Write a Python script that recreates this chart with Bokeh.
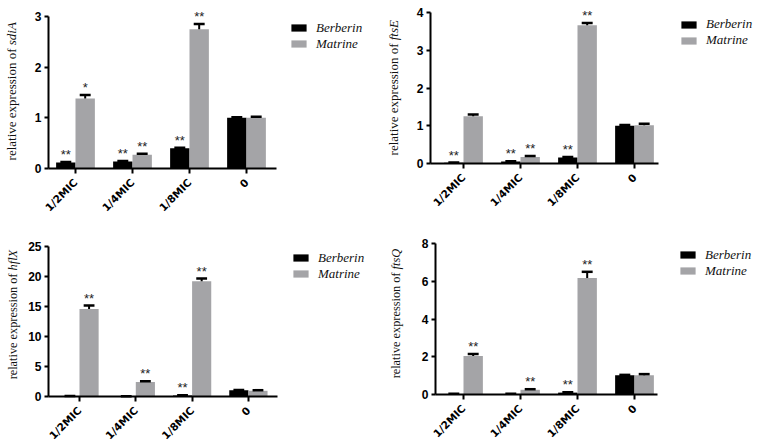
import math
from bokeh.plotting import figure
from bokeh.layouts import column, row
from bokeh.models import ColumnDataSource, FixedTicker, Label, Legend, LegendItem, Range1d
from bokeh.core.properties import value
from bokeh.embed import file_html
from bokeh.resources import INLINE

categories = ["1/2MIC", "1/4MIC", "1/8MIC", "0"]
series_names = ["Berberin", "Matrine"]

# sdiA
sdiA_berberin = [0.12, 0.14, 0.40, 1.00]
sdiA_berberin_err = [0.01, 0.01, 0.01, 0.01]
sdiA_matrine = [1.38, 0.27, 2.75, 1.00]
sdiA_matrine_err = [0.07, 0.02, 0.10, 0.02]
sdiA_berberin_sig = ["**", "**", "**", ""]
sdiA_matrine_sig = ["*", "**", "**", ""]
sdiA_ticks = [0, 1, 2, 3]

# ftsE
ftsE_berberin = [0.02, 0.05, 0.16, 1.00]
ftsE_berberin_err = [0.005, 0.01, 0.01, 0.02]
ftsE_matrine = [1.25, 0.17, 3.66, 1.01]
ftsE_matrine_err = [0.05, 0.03, 0.06, 0.04]
ftsE_berberin_sig = ["**", "**", "**", ""]
ftsE_matrine_sig = ["", "**", "**", ""]
ftsE_ticks = [0, 1, 2, 3, 4]

# hflX
hflX_berberin = [0.05, 0.02, 0.18, 1.05]
hflX_berberin_err = [0.02, 0.01, 0.03, 0.05]
hflX_matrine = [14.6, 2.4, 19.2, 0.95]
hflX_matrine_err = [0.55, 0.15, 0.45, 0.10]
hflX_berberin_sig = ["", "", "**", ""]
hflX_matrine_sig = ["**", "**", "**", ""]
hflX_ticks = [0, 5, 10, 15, 20, 25]

# ftsQ
ftsQ_berberin = [0.03, 0.03, 0.10, 1.02]
ftsQ_berberin_err = [0.01, 0.01, 0.02, 0.02]
ftsQ_matrine = [2.04, 0.25, 6.17, 1.02]
ftsQ_matrine_err = [0.10, 0.03, 0.33, 0.06]
ftsQ_berberin_sig = ["", "", "**", ""]
ftsQ_matrine_sig = ["**", "**", "**", ""]
ftsQ_ticks = [0, 2, 4, 6, 8]

BLACK = "#000000"
GRAY = "#a4a4a7"

# layout numbers are pixels inside each figure (origin top-left of the figure)
panels = [
    dict(gene="sdiA", b=sdiA_berberin, be=sdiA_berberin_err, m=sdiA_matrine, me=sdiA_matrine_err,
         bs=sdiA_berberin_sig, ms=sdiA_matrine_sig, ticks=sdiA_ticks,
         w=380, h=221, tick0=75, ppu=57.0, ax_l=48, ax_r=276, y0=168, ytop_px=16,
         leg=(289, 169.5), lab_x=11, lab_j=173, lab_fs=13),
    dict(gene="ftsE", b=ftsE_berberin, be=ftsE_berberin_err, m=ftsE_matrine, me=ftsE_matrine_err,
         bs=ftsE_berberin_sig, ms=ftsE_matrine_sig, ticks=ftsE_ticks,
         w=378, h=221, tick0=83, ppu=57.0, ax_l=50, ax_r=278, y0=163, ytop_px=12,
         leg=(299, 173), lab_x=13, lab_j=178, lab_fs=13),
    dict(gene="hflX", b=hflX_berberin, be=hflX_berberin_err, m=hflX_matrine, me=hflX_matrine_err,
         bs=hflX_berberin_sig, ms=hflX_matrine_sig, ticks=hflX_ticks,
         w=380, h=221, tick0=79, ppu=56.3, ax_l=48, ax_r=277, y0=175, ytop_px=25,
         leg=(291, 160.5), lab_x=12.5, lab_j=169, lab_fs=12.3),
    dict(gene="ftsQ", b=ftsQ_berberin, be=ftsQ_berberin_err, m=ftsQ_matrine, me=ftsQ_matrine_err,
         bs=ftsQ_berberin_sig, ms=ftsQ_matrine_sig, ticks=ftsQ_ticks,
         w=378, h=221, tick0=83, ppu=57.0, ax_l=55, ax_r=277, y0=173, ytop_px=22,
         leg=(298, 163.5), lab_x=15, lab_j=170, lab_fs=12.3),
]

BAR_W = 0.34
CAP = 0.096


def make_panel(cfg):
    ymax = cfg["ticks"][-1]
    ppu = cfg["ppu"]
    ppy = (cfg["y0"] - cfg["ytop_px"]) / ymax
    x_start = -cfg["tick0"] / ppu
    x_end = (cfg["w"] - cfg["tick0"]) / ppu
    y_start = -(cfg["h"] - cfg["y0"]) / ppy
    y_end = cfg["y0"] / ppy
    ax_l = (cfg["ax_l"] - cfg["tick0"]) / ppu
    ax_r = (cfg["ax_r"] - cfg["tick0"]) / ppu

    p = figure(width=cfg["w"], height=cfg["h"], output_backend="svg", toolbar_location=None,
               x_range=Range1d(x_start, x_end), y_range=Range1d(y_start, y_end),
               min_border=0, title_location=None)
    p.outline_line_color = None
    p.grid.visible = False
    p.background_fill_color = "white"
    p.border_fill_color = "white"

    idx = list(range(len(categories)))
    xb = [i - BAR_W / 2 for i in idx]
    xm = [i + BAR_W / 2 for i in idx]
    src_b = ColumnDataSource(dict(x=xb, top=cfg["b"], err=[v + e for v, e in zip(cfg["b"], cfg["be"])],
                                  x0=[x - CAP for x in xb], x1=[x + CAP for x in xb], sig=cfg["bs"]))
    src_m = ColumnDataSource(dict(x=xm, top=cfg["m"], err=[v + e for v, e in zip(cfg["m"], cfg["me"])],
                                  x0=[x - CAP for x in xm], x1=[x + CAP for x in xm], sig=cfg["ms"]))

    rb = p.vbar(x="x", top="top", bottom=0, width=BAR_W, source=src_b, fill_color=BLACK, line_color=None)
    rm = p.vbar(x="x", top="top", bottom=0, width=BAR_W, source=src_m, fill_color=GRAY, line_color=None)
    for src in (src_b, src_m):
        p.segment(x0="x", y0="top", x1="x", y1="err", source=src, line_color="black", line_width=2)
        p.segment(x0="x0", y0="err", x1="x1", y1="err", source=src, line_color="black", line_width=2.5)
        p.text(x="x", y="err", text="sig", source=src, text_align="center", text_baseline="bottom",
               text_font=value("Liberation Sans"), text_font_size="13px", text_color="#222222")

    # axes, placed inside the frame at fixed data positions
    for ax in (p.xaxis[0], p.yaxis[0]):
        ax.axis_line_color = "black"
        ax.axis_line_width = 2
        ax.major_tick_line_color = "black"
        ax.major_tick_line_width = 2
        ax.minor_tick_line_color = None
        ax.major_tick_in = 0
        ax.major_label_text_color = "black"
        ax.major_label_text_font_style = "bold"
    xa = p.xaxis[0]
    xa.fixed_location = 0
    xa.ticker = FixedTicker(ticks=idx)
    xa.major_label_overrides = {i: c for i, c in zip(idx, categories)}
    xa.major_label_orientation = math.pi / 4
    xa.major_label_text_font = "DejaVu Sans"
    xa.major_label_text_font_size = "10.5px"
    xa.major_label_standoff = 7
    xa.major_tick_out = 5
    xa.bounds = (ax_l, ax_r)
    ya = p.yaxis[0]
    ya.fixed_location = ax_l
    ya.ticker = FixedTicker(ticks=cfg["ticks"])
    ya.major_label_text_font = "Liberation Sans"
    ya.major_label_text_font_size = "12px"
    ya.major_label_standoff = 3
    ya.major_tick_out = 4
    ya.bounds = (0, ymax)

    # y axis title: plain text + italic gene name, joined at one point
    fs = cfg["lab_fs"]
    p.add_layout(Label(x=cfg["lab_x"], y=cfg["lab_j"], x_units="screen", y_units="screen",
                       text="relative expression of", angle=90, angle_units="deg",
                       text_align="right", text_baseline="middle", text_font="Liberation Serif",
                       text_font_size=f"{fs}px", text_color="#111111"))
    p.add_layout(Label(x=cfg["lab_x"], y=cfg["lab_j"] + 0.25 * fs, x_units="screen", y_units="screen",
                       text=cfg["gene"], angle=90, angle_units="deg",
                       text_align="left", text_baseline="middle", text_font="Liberation Serif",
                       text_font_style="italic", text_font_size=f"{fs}px", text_color="#111111"))

    legend = Legend(items=[LegendItem(label=series_names[0], renderers=[rb]),
                           LegendItem(label=series_names[1], renderers=[rm])],
                    location=cfg["leg"], glyph_width=19, glyph_height=9, label_height=16,
                    label_standoff=8, spacing=0, padding=0, margin=0,
                    label_text_font="Liberation Serif", label_text_font_style="italic",
                    label_text_font_size="13px", label_text_color="#111111",
                    border_line_color=None, background_fill_alpha=0)
    p.add_layout(legend, "center")
    return p


figs = [make_panel(c) for c in panels]
layout = column(row(figs[0], figs[1], spacing=0), row(figs[2], figs[3], spacing=0), spacing=0)
open("out.html", "w").write(file_html(layout, INLINE))
